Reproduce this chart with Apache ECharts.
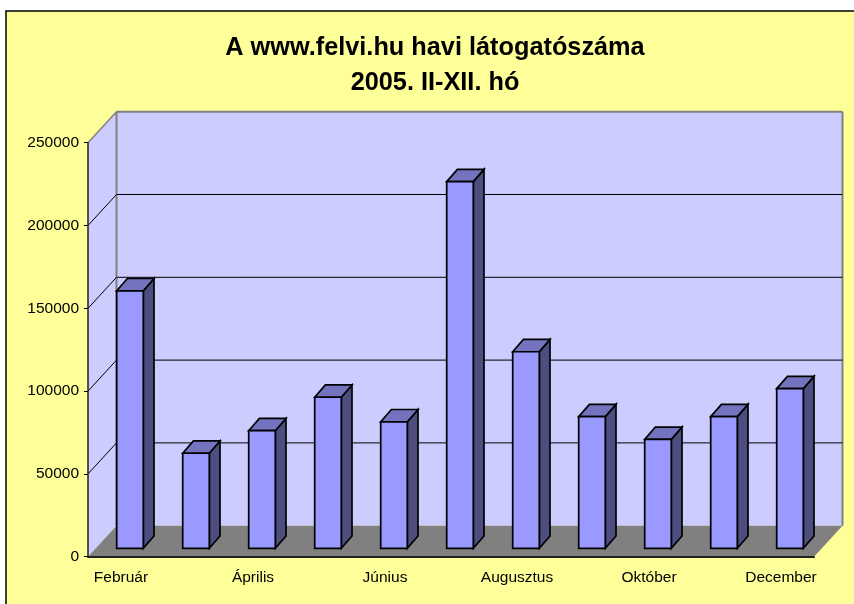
<!DOCTYPE html>
<html>
<head>
<meta charset="utf-8">
<title>A www.felvi.hu havi látogatószáma</title>
<script src="https://cdn.jsdelivr.net/npm/echarts@6/dist/echarts.min.js"></script>
<style>
  html, body { margin: 0; padding: 0; background: #fff; }
  #chart { width: 854px; height: 604px; }
</style>
</head>
<body>
<div id="chart"></div>
<script>
const titleText = 'A www.felvi.hu havi látogatószáma\n2005. II-XII. hó'
const months = ['Február', 'Március', 'Április', 'Május', 'Június', 'Július', 'Augusztus', 'Szeptember', 'Október', 'November', 'December']
const visitors = [155500, 57400, 71000, 91200, 76400, 221400, 118700, 79500, 65800, 79500, 96400]
const yTicks = [0, 50000, 100000, 150000, 200000, 250000]

// fake 3D: how far the back wall and the bars are pushed in pixels
const wallDx = 28.5, wallDy = 31
const barDx = 10.7, barDy = 12.3, barW = 26.6
const barOffX = 9, barOffY = 8.4

const font = '"Liberation Sans", Arial, sans-serif'
const chart = echarts.init(document.getElementById('chart'))

function poly(points, fill, stroke, lineWidth) {
  return {type: 'polygon', shape: {points}, style: {fill, stroke: stroke || 'none', lineWidth: lineWidth || 0, lineJoin: 'miter'}}
}
function line(x1, y1, x2, y2, stroke, lineWidth) {
  return {type: 'line', shape: {x1, y1, x2, y2}, style: {stroke, lineWidth}}
}

function renderWalls(params) {
  const cs = params.coordSys
  const l = cs.x, r = cs.x + cs.width, t = cs.y, b = cs.y + cs.height
  const wallGray = '#808080'
  return {
    type: 'group',
    children: [
      poly([[l, t], [l + wallDx, t - wallDy], [l + wallDx, b - wallDy], [l, b]], '#CCCCFF'),
      poly([[l + wallDx, t - wallDy], [r + wallDx, t - wallDy], [r + wallDx, b - wallDy], [l + wallDx, b - wallDy]], '#CCCCFF'),
      poly([[l, b], [r, b], [r + wallDx, b - wallDy], [l + wallDx, b - wallDy]], '#808080'),
      line(l, t, l + wallDx, t - wallDy, wallGray, 1.5),
      line(l + wallDx, t - wallDy, r + wallDx, t - wallDy, wallGray, 2),
      line(r + wallDx, t - wallDy, r + wallDx, b - wallDy, wallGray, 2),
      line(l + wallDx, t - wallDy, l + wallDx, b - wallDy, wallGray, 2)
    ]
  }
}

function renderGrid(params, api) {
  const cs = params.coordSys
  const y = api.coord([0, api.value(1)])[1]
  const l = cs.x, r = cs.x + cs.width
  return {
    type: 'group',
    children: [
      line(l, y, l + wallDx, y - wallDy, '#000', 1),
      line(l + wallDx, y - wallDy, r + wallDx, y - wallDy, '#000', 1)
    ]
  }
}

function renderBar(params, api) {
  const i = api.value(0)
  const base = api.coord([i, 0])
  const top = api.coord([i, api.value(1)])
  const x0 = base[0] + barOffX - barW / 2
  const x1 = x0 + barW
  const y0 = base[1] - barOffY
  const y1 = top[1] - barOffY
  const edge = '#000'
  return {
    type: 'group',
    children: [
      poly([[x1, y1], [x1 + barDx, y1 - barDy], [x1 + barDx, y0 - barDy], [x1, y0]], '#4D4D80', edge, 1.7),
      poly([[x0, y1], [x0 + barDx, y1 - barDy], [x1 + barDx, y1 - barDy], [x1, y1]], '#7373BF', edge, 1.7),
      poly([[x0, y0], [x0, y1], [x1, y1], [x1, y0]], '#9999FF', edge, 1.7)
    ]
  }
}

chart.setOption({
  animation: false,
  backgroundColor: '#fff',
  title: {
    text: titleText,
    left: 430,
    top: 26,
    textAlign: 'center',
    textStyle: {fontFamily: font, fontSize: 25.3, fontWeight: 'bold', color: '#000', lineHeight: 35}
  },
  graphic: [{
    type: 'rect',
    z: -10,
    silent: true,
    shape: {x: 6, y: 11, width: 860, height: 610},
    style: {fill: '#FFFF99', stroke: '#000', lineWidth: 1.5}
  }],
  grid: {left: 88, right: 40, top: 142.7, bottom: 47.3},
  xAxis: {
    type: 'category',
    data: months,
    z: 10,
    axisLine: {lineStyle: {color: '#222', width: 2}},
    axisTick: {interval: 0, length: 5, lineStyle: {color: '#000'}},
    axisLabel: {interval: 1, margin: 13, fontFamily: font, fontSize: 15.5, color: '#000'}
  },
  yAxis: {
    type: 'value',
    min: yTicks[0],
    max: yTicks[yTicks.length - 1],
    interval: 50000,
    z: 10,
    splitLine: {show: false},
    axisLine: {show: true, lineStyle: {color: '#222', width: 1.5}},
    axisTick: {show: true, length: 4, lineStyle: {color: '#000'}},
    axisLabel: {margin: 9, fontFamily: font, fontSize: 15.5, color: '#000', formatter: v => String(v)}
  },
  series: [
    {type: 'custom', z: 1, silent: true, clip: false, renderItem: renderWalls, data: [[0, 0]]},
    {type: 'custom', z: 2, silent: true, clip: false, renderItem: renderGrid, data: yTicks.slice(1, -1).map(v => [0, v])},
    {type: 'custom', z: 3, silent: true, clip: false, renderItem: renderBar, data: visitors.map((v, i) => [i, v])}
  ]
})
</script>
</body>
</html>
